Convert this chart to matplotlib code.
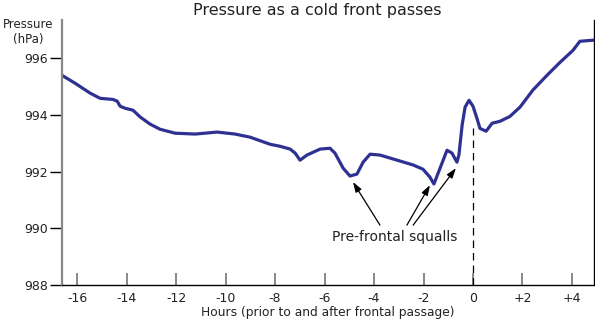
import numpy as np
import matplotlib.pyplot as plt

# hours relative to frontal passage, pressure in hPa
hours = [-16.61, -16.08, -15.47, -15.07, -14.55, -14.38, -14.26, -14.06, -13.74,
         -13.45, -13.05, -12.65, -12.04, -11.23, -10.34, -9.62, -9.01, -8.20,
         -7.80, -7.39, -7.19, -6.99, -6.71, -6.18, -5.78, -5.58, -5.25, -4.97,
         -4.69, -4.44, -4.16, -3.76, -3.07, -2.42, -2.02, -1.74, -1.58, -1.41,
         -1.05, -0.85, -0.65, -0.57, -0.44, -0.32, -0.16, 0.00, 0.16, 0.28,
         0.53, 0.77, 1.09, 1.49, 1.90, 2.42, 2.99, 3.52, 4.04, 4.32, 4.89]
pressure = [995.39, 995.11, 994.76, 994.58, 994.54, 994.48, 994.30, 994.23, 994.16,
            993.92, 993.67, 993.49, 993.35, 993.32, 993.39, 993.32, 993.21, 992.96,
            992.89, 992.79, 992.65, 992.40, 992.58, 992.79, 992.82, 992.65, 992.12, 991.84,
            991.91, 992.33, 992.61, 992.58, 992.40, 992.23, 992.08, 991.80, 991.56, 991.94,
            992.75, 992.65, 992.33, 992.58, 993.63, 994.27, 994.51, 994.30, 993.87, 993.52,
            993.42, 993.70, 993.77, 993.94, 994.27, 994.87, 995.39, 995.85, 996.27, 996.59, 996.63]

xticks = [-16, -14, -12, -10, -8, -6, -4, -2, 0, 2, 4]
xticklabels = ['-16', '-14', '-12', '-10', '-8', '-6', '-4', '-2', '0', '+2', '+4']
yticks = [988, 990, 992, 994, 996]

squall_text = (-3.15, 989.69)
squall_tails = [(-3.76, 990.11), (-2.67, 990.11), (-2.42, 990.11)]
squall_heads = [(-4.85, 991.63), (-1.74, 991.52), (-0.69, 992.12)]

fig = plt.figure(figsize=(5.95, 3.2), dpi=100)
ax = fig.add_axes([62/595, 35/320, 532/595, 265/320])

ax.plot(hours, pressure, color='#2e3192', lw=2.3, solid_joinstyle='round', solid_capstyle='round')
ax.plot([0, 0], [988, 993.53], color='black', lw=0.9, ls=(0, (6, 4)))

for (tx, ty), (hx, hy) in zip(squall_tails, squall_heads):
    ax.annotate('', xy=(hx, hy), xytext=(tx, ty),
                arrowprops=dict(arrowstyle='-|>,head_length=0.6,head_width=0.2', color='black',
                                lw=0.9, mutation_scale=10, shrinkA=0, shrinkB=0))
ax.text(squall_text[0], squall_text[1], 'Pre-frontal squalls', ha='center', va='center',
        fontsize=10, color='#222222')

ax.set_xlim(-16.61, 4.89)
ax.set_ylim(988, 997.34)
ax.set_xticks(xticks)
ax.set_xticklabels(xticklabels)
ax.set_yticks(yticks)

ax.spines['top'].set_visible(False)
ax.spines['left'].set_color('#888888')
ax.spines['left'].set_linewidth(1.6)
ax.spines['bottom'].set_linewidth(1.0)
ax.spines['right'].set_linewidth(1.0)
ax.tick_params(axis='x', direction='in', length=9, width=1.4, color='#888888',
               labelsize=9, pad=5, labelcolor='#222222')
ax.tick_params(axis='y', direction='out', length=9, width=1.0, color='black',
               labelsize=9, pad=1, labelcolor='#222222')

ax.set_xlabel('Hours (prior to and after frontal passage)', fontsize=8.8, labelpad=1, color='#222222')
fig.text(28/595, 1 - 32/320, 'Pressure\n(hPa)', ha='center', va='center', fontsize=8.5,
         color='#222222', linespacing=1.1)
fig.text(317/595, 1 - 11/320, 'Pressure as a cold front passes', ha='center', va='center',
         fontsize=11.5, color='#222222')

fig.savefig('out.png', dpi=100)
